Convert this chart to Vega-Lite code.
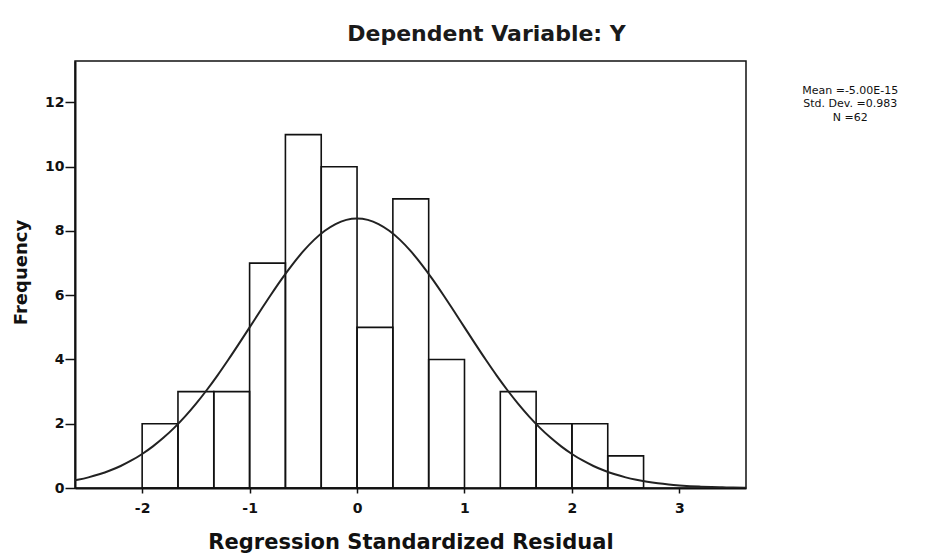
{
  "$schema": "https://vega.github.io/schema/vega-lite/v6.json",
  "autosize": "none",
  "width": 671,
  "height": 427,
  "padding": {"left": 75, "top": 61, "right": 190, "bottom": 67},
  "background": "white",
  "title": {
    "text": "Dependent Variable: Y",
    "font": "DejaVu Sans",
    "fontSize": 22,
    "fontWeight": "bold",
    "color": "#1a1a1a",
    "anchor": "middle",
    "frame": "group",
    "baseline": "alphabetic",
    "offset": -2,
    "dx": 76
  },
  "config": {
    "view": {"stroke": "#111", "strokeWidth": 1.5},
    "axis": {
      "domainColor": "#111",
      "domainWidth": 2,
      "tickColor": "#111",
      "tickWidth": 1.5,
      "grid": false,
      "labelFont": "DejaVu Sans",
      "labelFontSize": 14,
      "labelFontWeight": "bold",
      "labelColor": "#111",
      "labelExpr": "'' + datum.value",
      "titleFont": "DejaVu Sans",
      "titleFontWeight": "bold",
      "titleColor": "#111"
    }
  },
  "datasets": {
    "bins": [
      {"bin_start": -2.0, "bin_end": -1.6667, "count": 2},
      {"bin_start": -1.6667, "bin_end": -1.3333, "count": 3},
      {"bin_start": -1.3333, "bin_end": -1.0, "count": 3},
      {"bin_start": -1.0, "bin_end": -0.6667, "count": 7},
      {"bin_start": -0.6667, "bin_end": -0.3333, "count": 11},
      {"bin_start": -0.3333, "bin_end": 0.0, "count": 10},
      {"bin_start": 0.0, "bin_end": 0.3333, "count": 5},
      {"bin_start": 0.3333, "bin_end": 0.6667, "count": 9},
      {"bin_start": 0.6667, "bin_end": 1.0, "count": 4},
      {"bin_start": 1.3333, "bin_end": 1.6667, "count": 3},
      {"bin_start": 1.6667, "bin_end": 2.0, "count": 2},
      {"bin_start": 2.0, "bin_end": 2.3333, "count": 2},
      {"bin_start": 2.3333, "bin_end": 2.6667, "count": 1}
    ],
    "curve": [
      {"x": -2.625, "y": 0.237},
      {"x": -2.6, "y": 0.254},
      {"x": -2.5, "y": 0.330},
      {"x": -2.4, "y": 0.426},
      {"x": -2.3, "y": 0.543},
      {"x": -2.2, "y": 0.685},
      {"x": -2.1, "y": 0.856},
      {"x": -2.0, "y": 1.059},
      {"x": -1.9, "y": 1.296},
      {"x": -1.8, "y": 1.569},
      {"x": -1.7, "y": 1.880},
      {"x": -1.6, "y": 2.230},
      {"x": -1.5, "y": 2.618},
      {"x": -1.4, "y": 3.042},
      {"x": -1.3, "y": 3.498},
      {"x": -1.2, "y": 3.982},
      {"x": -1.1, "y": 4.485},
      {"x": -1.0, "y": 5.000},
      {"x": -0.9, "y": 5.516},
      {"x": -0.8, "y": 6.024},
      {"x": -0.7, "y": 6.510},
      {"x": -0.6, "y": 6.962},
      {"x": -0.5, "y": 7.370},
      {"x": -0.4, "y": 7.722},
      {"x": -0.3, "y": 8.006},
      {"x": -0.2, "y": 8.216},
      {"x": -0.1, "y": 8.345},
      {"x": 0.0, "y": 8.388},
      {"x": 0.1, "y": 8.345},
      {"x": 0.2, "y": 8.216},
      {"x": 0.3, "y": 8.006},
      {"x": 0.4, "y": 7.722},
      {"x": 0.5, "y": 7.370},
      {"x": 0.6, "y": 6.962},
      {"x": 0.7, "y": 6.510},
      {"x": 0.8, "y": 6.024},
      {"x": 0.9, "y": 5.516},
      {"x": 1.0, "y": 5.000},
      {"x": 1.1, "y": 4.485},
      {"x": 1.2, "y": 3.982},
      {"x": 1.3, "y": 3.498},
      {"x": 1.4, "y": 3.042},
      {"x": 1.5, "y": 2.618},
      {"x": 1.6, "y": 2.230},
      {"x": 1.7, "y": 1.880},
      {"x": 1.8, "y": 1.569},
      {"x": 1.9, "y": 1.296},
      {"x": 2.0, "y": 1.059},
      {"x": 2.1, "y": 0.856},
      {"x": 2.2, "y": 0.685},
      {"x": 2.3, "y": 0.543},
      {"x": 2.4, "y": 0.426},
      {"x": 2.5, "y": 0.330},
      {"x": 2.6, "y": 0.254},
      {"x": 2.7, "y": 0.193},
      {"x": 2.8, "y": 0.145},
      {"x": 2.9, "y": 0.108},
      {"x": 3.0, "y": 0.080},
      {"x": 3.1, "y": 0.058},
      {"x": 3.2, "y": 0.042},
      {"x": 3.3, "y": 0.030},
      {"x": 3.4, "y": 0.021},
      {"x": 3.5, "y": 0.015},
      {"x": 3.6, "y": 0.010},
      {"x": 3.62, "y": 0.009}
    ]
  },
  "layer": [
    {
      "data": {"name": "bins"},
      "mark": {"type": "rect", "fill": null, "fillOpacity": 0, "stroke": "#111", "strokeWidth": 1.6},
      "encoding": {
        "x": {
          "field": "bin_start",
          "type": "quantitative",
          "scale": {"domain": [-2.625, 3.62], "nice": false, "zero": false},
          "axis": {
            "values": [-2, -1, 0, 1, 2, 3],
            "tickSize": 5,
            "labelPadding": 8,
            "title": "Regression Standardized Residual",
            "titleFontSize": 21,
            "titleBaseline": "alphabetic",
            "titleY": 60
          }
        },
        "x2": {"field": "bin_end"},
        "y": {
          "field": "count",
          "type": "quantitative",
          "scale": {"domain": [0, 13.29], "nice": false},
          "axis": {
            "values": [0, 2, 4, 6, 8, 10, 12],
            "tickSize": 10,
            "labelPadding": 1,
            "title": "Frequency",
            "titleFontSize": 18,
            "titleBaseline": "middle",
            "titleX": -54,
            "titleY": 211
          }
        },
        "y2": {"datum": 0}
      }
    },
    {
      "data": {"name": "curve"},
      "mark": {"type": "line", "stroke": "#222", "strokeWidth": 2, "interpolate": "monotone", "clip": true},
      "encoding": {
        "x": {"field": "x", "type": "quantitative"},
        "y": {"field": "y", "type": "quantitative"}
      }
    },
    {
      "data": {"values": [{}]},
      "mark": {
        "type": "text",
        "text": ["Mean =-5.00E-15", "Std. Dev. =0.983", "N =62"],
        "font": "DejaVu Sans",
        "fontSize": 11,
        "lineHeight": 13.5,
        "align": "center",
        "baseline": "middle",
        "color": "#111"
      },
      "encoding": {
        "x": {"datum": 4.59},
        "y": {"datum": 12.36}
      }
    }
  ]
}
